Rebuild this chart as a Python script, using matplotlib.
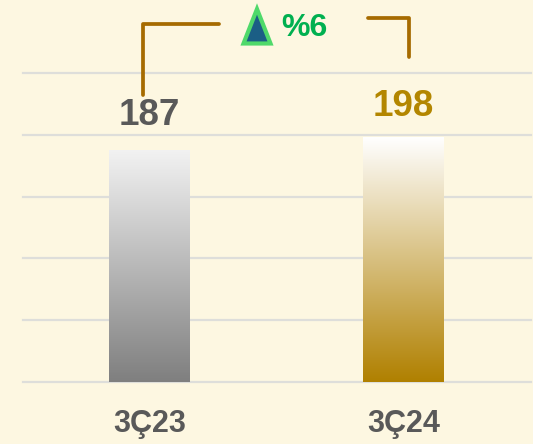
import numpy as np
import matplotlib
matplotlib.use("Agg")
import matplotlib.pyplot as plt
from matplotlib.colors import LinearSegmentedColormap
from matplotlib.lines import Line2D
from matplotlib.patches import Polygon

categories = ["3Ç23", "3Ç24"]
values = [187, 198]
value_colors = ["#595959", "#B38600"]
gradients = [("#F2F2F2", "#7F7F7F"), ("#FFFFFF", "#B08000")]
change_label = "%6"

W, H = 533, 444
BG = "#FDF7E1"
plt.rcParams["font.family"] = ["Liberation Sans", "DejaVu Sans"]

fig = plt.figure(figsize=(W / 100, H / 100), dpi=100, facecolor=BG)
ax = fig.add_axes([22.6 / W, 1 - 382 / H, 508 / W, 309 / H], facecolor=BG)
ax.set_xlim(-0.5, 1.5)
ax.set_ylim(0, 250)
ax.set_yticks(range(0, 251, 50))
ax.yaxis.grid(True, color="#DEDEDA", lw=1.6, zorder=0, clip_on=False)
ax.set_axisbelow(True)
ax.tick_params(left=False, bottom=False, labelleft=False)
for s in ax.spines.values():
    s.set_visible(False)

bar_w = 0.318
for i, (v, (top, bottom)) in enumerate(zip(values, gradients)):
    cmap = LinearSegmentedColormap.from_list("g", [top, bottom])
    ax.imshow(np.linspace(0, 1, 256).reshape(-1, 1), cmap=cmap, aspect="auto",
              extent=(i - bar_w / 2, i + bar_w / 2, 0, v), zorder=2,
              interpolation="bilinear")
    ax.text(i, v + 21 if i == 0 else v + 17, str(v), ha="center", va="baseline",
            fontsize=26.5, fontweight="bold", color=value_colors[i],
            clip_on=False)
ax.set_xlim(-0.5, 1.5)
ax.set_ylim(0, 250)
ax.set_xticks(range(len(categories)))
ax.set_xticklabels(categories, fontsize=22, fontweight="bold", color="#595959")
ax.tick_params(axis="x", pad=16)


def px(x, y):
    return x / W, 1 - y / H


def bracket(points):
    xs, ys = zip(*[px(*p) for p in points])
    fig.add_artist(Line2D(xs, ys, transform=fig.transFigure, color="#A66B00",
                          lw=2.7, solid_joinstyle="round", solid_capstyle="round"))


bracket([(143, 95), (143, 24), (219, 24)])
bracket([(368, 18.5), (409, 18.5), (409, 57)])

fig.add_artist(Polygon([px(257, 9), px(243.5, 43.5), px(270.5, 43.5)], closed=True,
                       transform=fig.transFigure, facecolor="#1B5E85",
                       edgecolor="#4FD96A", lw=3, joinstyle="miter"))
fig.text(*px(281, 35.5), change_label, ha="left", va="baseline", fontsize=23,
         fontweight="bold", color="#00B050")

fig.savefig("out.png", dpi=100, facecolor=BG)
